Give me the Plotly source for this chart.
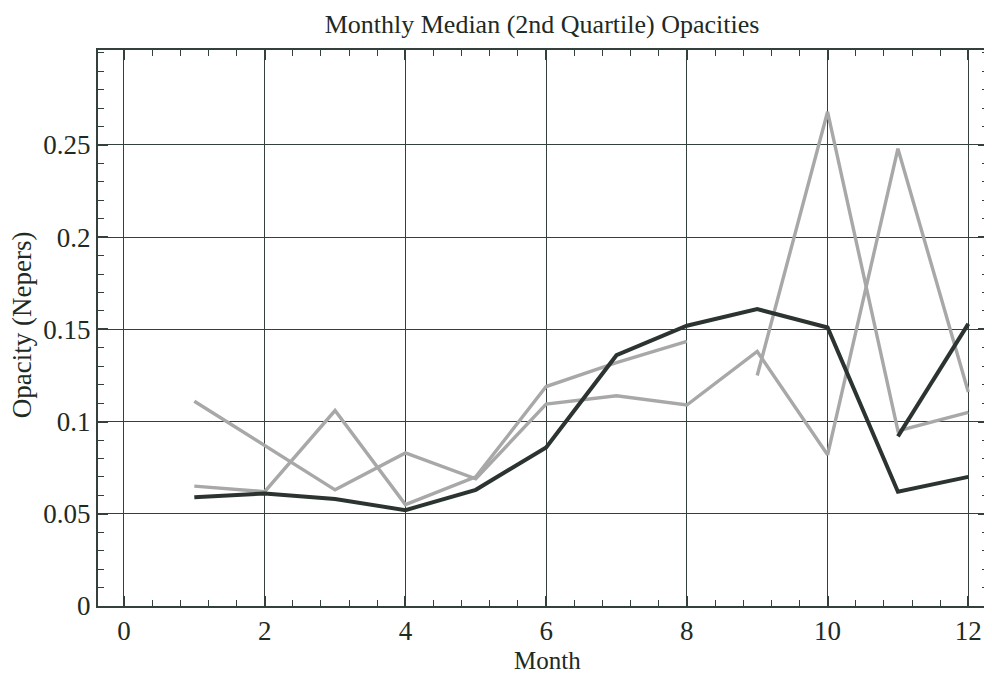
import plotly.graph_objects as go

months_full = [1, 2, 3, 4, 5, 6, 7, 8, 9, 10, 11, 12]
dark_a = [0.059, 0.061, 0.058, 0.052, 0.063, 0.086, 0.136, 0.152, 0.161, 0.151, 0.062, 0.070]
months_dark_b = [11, 12]
dark_b = [0.092, 0.153]
gray_a = [0.111, 0.087, 0.063, 0.083, 0.069, 0.1095, 0.114, 0.109, 0.138, 0.082, 0.248, 0.116]
months_gray_b = [1, 2, 3, 4, 5, 6, 7, 8]
gray_b = [0.065, 0.062, 0.106, 0.055, 0.070, 0.119, 0.132, 0.1435]
months_gray_c = [9, 10, 11, 12]
gray_c = [0.125, 0.268, 0.095, 0.105]

x_ticks = [0, 2, 4, 6, 8, 10, 12]
y_ticks = [0, 0.05, 0.1, 0.15, 0.2, 0.25]
y_tick_text = ["0", "0.05", "0.1", "0.15", "0.2", "0.25"]

GRAY = "#a8a8a8"
DARK = "#2c3430"
AXC = "#34403a"
TXT = "#1e2a24"
FONT = "Liberation Serif"

fig = go.Figure()
for xs, ys in [(months_full, gray_a), (months_gray_b, gray_b), (months_gray_c, gray_c)]:
    fig.add_trace(go.Scatter(x=xs, y=ys, mode="lines", line=dict(color=GRAY, width=3.4),
                             showlegend=False, hoverinfo="skip"))
for xs, ys in [(months_full, dark_a), (months_dark_b, dark_b)]:
    fig.add_trace(go.Scatter(x=xs, y=ys, mode="lines", line=dict(color=DARK, width=4),
                             showlegend=False, hoverinfo="skip"))

fig.update_layout(
    width=984, height=670,
    margin=dict(l=90, r=2, t=42, b=72),
    paper_bgcolor="white", plot_bgcolor="white",
    font=dict(family=FONT, size=26, color=TXT),
    title=dict(text="Monthly Median (2nd Quartile) Opacities", x=0.5427, xanchor="center",
               y=0.976, yanchor="middle", font=dict(family=FONT, size=26, color=TXT)),
    annotations=[
        dict(text="Month", xref="paper", yref="paper", x=0.5045, y=-0.126,
             xanchor="center", yanchor="bottom", showarrow=False,
             font=dict(family=FONT, size=25, color=TXT)),
        dict(text="Opacity (Nepers)", xref="paper", yref="paper", x=-0.0852, y=0.5054,
             xanchor="center", yanchor="middle", showarrow=False, textangle=-90,
             font=dict(family=FONT, size=27, color=TXT)),
    ],
)
fig.update_xaxes(
    range=[-0.369, 12.28], tickvals=x_ticks, ticktext=[str(v) for v in x_ticks],
    showgrid=True, gridcolor=AXC, gridwidth=1.2, zeroline=False,
    showline=True, linecolor=AXC, linewidth=2, mirror="allticks",
    ticks="inside", ticklen=10, tickwidth=1.5, tickcolor=AXC,
    minor=dict(dtick=0.4, tick0=0, ticks="inside", ticklen=6, tickwidth=1, tickcolor=AXC, showgrid=False),
    tickfont=dict(family=FONT, size=27, color=TXT), ticklabelstandoff=0,
)
fig.update_yaxes(
    range=[0, 0.3015], tickvals=y_ticks, ticktext=y_tick_text,
    showgrid=True, gridcolor=AXC, gridwidth=1.2, zeroline=False,
    showline=True, linecolor=AXC, linewidth=2, mirror="allticks",
    ticks="inside", ticklen=10, tickwidth=1.5, tickcolor=AXC,
    minor=dict(dtick=0.01, tick0=0, ticks="inside", ticklen=6, tickwidth=1, tickcolor=AXC, showgrid=False),
    tickfont=dict(family=FONT, size=27, color=TXT), ticklabelstandoff=0,
)

fig.write_html("out.html")
